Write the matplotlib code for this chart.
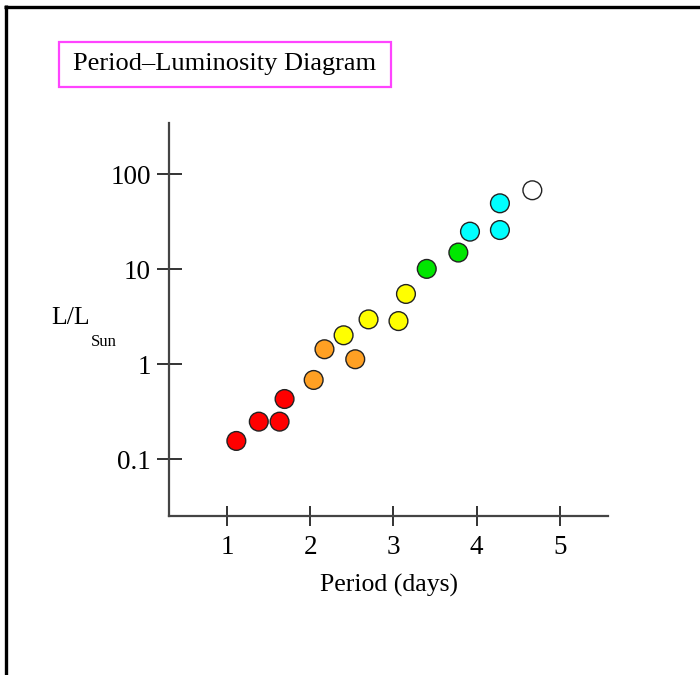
import matplotlib
matplotlib.use("Agg")
import matplotlib.pyplot as plt
from matplotlib.lines import Line2D
from matplotlib.patches import Rectangle
from matplotlib.ticker import FixedLocator, NullLocator

plt.rcParams['font.family'] = ['Liberation Serif', 'DejaVu Serif']

# Data
period_days = [1.11, 1.38, 1.63, 1.69,
               2.04, 2.17, 2.54,
               2.40, 2.70, 3.06, 3.15,
               3.40, 3.78,
               3.92, 4.28, 4.28,
               4.67]
luminosity = [0.156, 0.249, 0.249, 0.431,
              0.684, 1.44, 1.13,
              2.02, 2.97, 2.85, 5.50,
              10.1, 15.0,
              24.9, 25.9, 49.5,
              67.9]
star_colors = ['#ff0000'] * 4 + ['#ffa023'] * 3 + ['#ffff00'] * 4 + \
              ['#00e600'] * 2 + ['#00ffff'] * 3 + ['#ffffff']
x_ticks = [1, 2, 3, 4, 5]
x_ticklabels = ['1', '2', '3', '4', '5']
y_ticks = [0.1, 1, 10, 100]
y_ticklabels = ['0.1', '1', '10', '100']

W, H = 700, 675
fig = plt.figure(figsize=(7, 6.75), dpi=100)
fig.patch.set_facecolor('white')

# outer frame (left and top edges)
fig.add_artist(Line2D([5.5 / W, 5.5 / W], [0, 1 - 5 / H], color='black', lw=2.4,
                      transform=fig.transFigure, solid_capstyle='butt'))
fig.add_artist(Line2D([4.3 / W, 1], [1 - 7 / H, 1 - 7 / H], color='black', lw=2.4,
                      transform=fig.transFigure, solid_capstyle='butt'))

left, right, top, bottom = 169, 608, 123, 516
ax = fig.add_axes([left / W, 1 - bottom / H, (right - left) / W, (bottom - top) / H])
ax.set_yscale('log')
ax.set_xlim(0.30, 5.58)
ax.set_ylim(10 ** -1.597, 10 ** 2.54)

ax.scatter(period_days, luminosity, s=13.5 ** 2, c=star_colors,
           edgecolors='#222222', linewidths=1.0, zorder=3, clip_on=False)

for s in ['top', 'right']:
    ax.spines[s].set_visible(False)
for s in ['left', 'bottom']:
    ax.spines[s].set_color('#444444')
    ax.spines[s].set_linewidth(1.6)

ax.xaxis.set_major_locator(FixedLocator(x_ticks))
ax.set_xticklabels(x_ticklabels)
ax.yaxis.set_major_locator(FixedLocator(y_ticks))
ax.set_yticklabels(y_ticklabels)
ax.yaxis.set_minor_locator(NullLocator())
ax.tick_params(axis='x', direction='inout', length=14, width=1.4, color='#333333',
               labelsize=19.5, pad=7)
ax.tick_params(axis='y', direction='inout', length=18, width=1.4, color='#333333',
               labelsize=19.5, pad=4)

ax.set_xlabel('Period (days)', fontsize=18.5, labelpad=10)

# y label L/L_Sun
fig.text(51 / W, 1 - 318 / H, 'L/L', fontsize=18.5, ha='left', va='center')
fig.text(91 / W, 1 - 342 / H, 'Sun', fontsize=12, ha='left', va='center')

# title box
fig.add_artist(Rectangle((59 / W, 1 - 87 / H), (391 - 59) / W, (87 - 42) / H,
                         transform=fig.transFigure, fill=False,
                         edgecolor='#ff44ff', lw=1.6))
fig.text(225 / W, 1 - 64 / H, 'Period\u2013Luminosity Diagram', fontsize=19,
         ha='center', va='center')

fig.savefig('out.png', dpi=100)
